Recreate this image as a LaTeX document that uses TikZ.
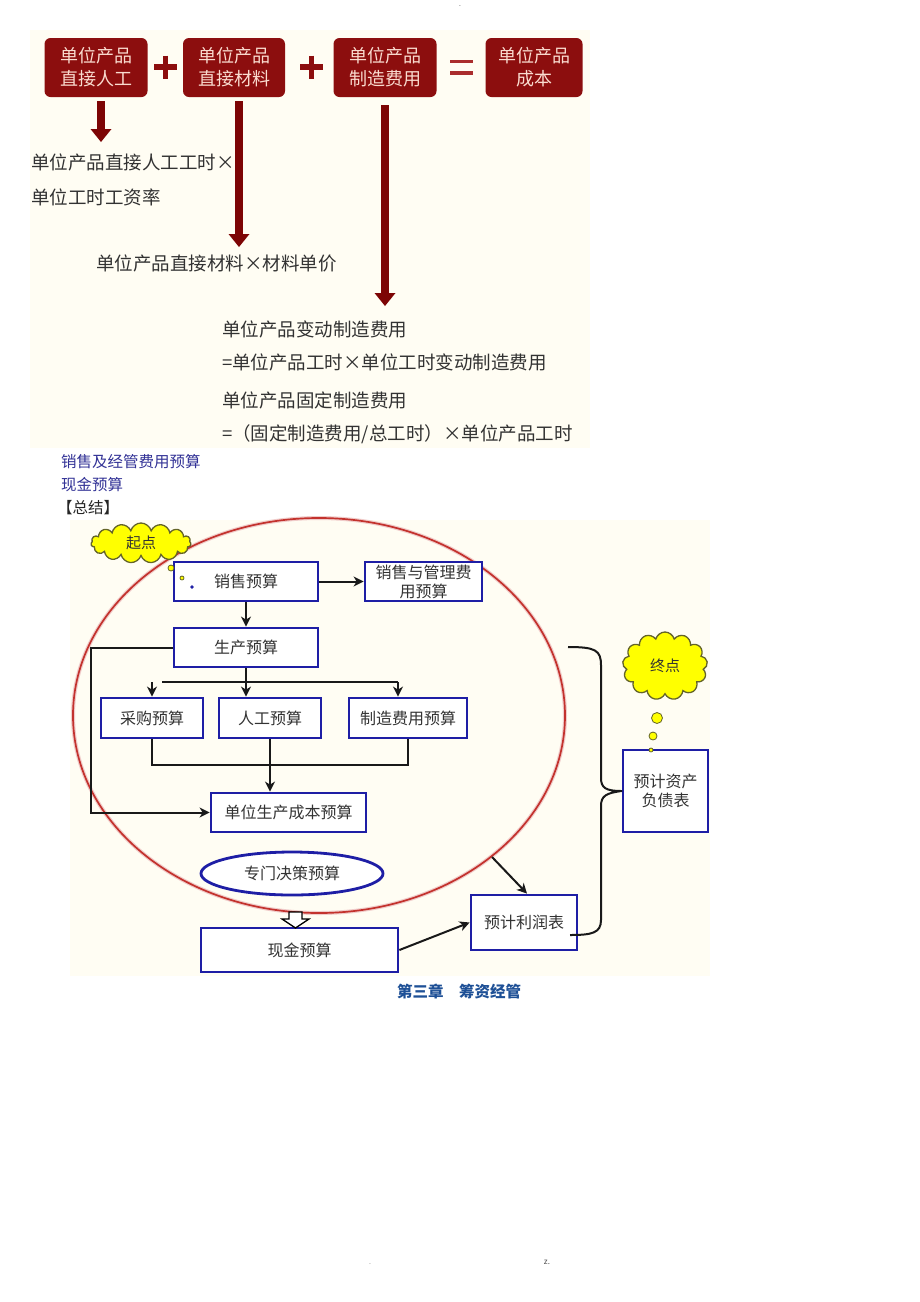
\documentclass[tikz,border=0pt]{standalone}
\usepackage{fontspec}
\setmainfont{Noto Sans CJK SC}
\usetikzlibrary{arrows.meta,shapes.geometric,shapes.symbols}
\definecolor{cream}{RGB}{255,253,243}
\definecolor{boxred}{RGB}{140,14,14}
\definecolor{boxtxt}{RGB}{250,220,208}
\definecolor{arrred}{RGB}{125,5,5}
\definecolor{eqred}{RGB}{170,45,45}
\definecolor{txtgray}{RGB}{50,50,50}
\definecolor{navy}{RGB}{30,30,165}
\definecolor{ellred}{RGB}{195,50,45}
\definecolor{cloudy}{RGB}{255,255,0}
\definecolor{cloudline}{RGB}{100,100,40}
\definecolor{noteblue}{RGB}{50,50,150}
\definecolor{footblue}{RGB}{30,80,150}
\tikzset{
  redbox/.style={fill=boxred, rounded corners=6pt, minimum height=59pt, text=boxtxt,
    font=\fontsize{18}{23}\selectfont, align=center, inner sep=0pt},
  bigarrow/.style={draw=arrred, line width=8pt, -{Triangle[width=21pt,length=13pt,line width=0pt]}},
  toptext/.style={anchor=west, inner sep=0pt, text=txtgray, font=\fontsize{18.5}{22}\selectfont},
  note/.style={anchor=west, inner sep=0pt, text=noteblue, font=\fontsize{15.5}{18}\selectfont},
  bluebox/.style={draw=navy, line width=2.8pt, fill=white, inner sep=0pt, align=center,
    text=black!80, font=\fontsize{16}{19}\selectfont},
  conn/.style={draw=black!90, line width=2pt},
  arr/.style={conn, -{Stealth[length=10pt,width=10pt,inset=3pt]}},
  cloudnode/.style={cloud, cloud puffs=15, draw=cloudline, fill=cloudy, line width=1.3pt,
    inner sep=0pt, font=\fontsize{15}{17}\selectfont, text=black!80},
  bubble/.style={circle, draw=cloudline, fill=cloudy, line width=0.8pt, inner sep=0pt},
}
\begin{document}
\begin{tikzpicture}[x=1pt,y=-1pt]
\useasboundingbox (0,0) rectangle (920,1302);
\fill[white] (0,0) rectangle (920,1302);
\fill[cream] (30,30) rectangle (590,448);
\fill[cream] (70,520) rectangle (710,976);

% ---------- top figure ----------
\node[redbox, minimum width=103pt] (b1) at (96,67.5) {单位产品\\直接人工};
\node[redbox, minimum width=102pt] (b2) at (234,67.5) {单位产品\\直接材料};
\node[redbox, minimum width=103pt] (b3) at (385,67.5) {单位产品\\制造费用};
\node[redbox, minimum width=97pt] (b4) at (534,67.5) {单位产品\\成本};
\draw[line width=5.5pt, boxred] (154,67)--(177,67) (165.5,55.5)--(165.5,78.5);
\draw[line width=5.5pt, boxred] (300,67)--(323,67) (311.5,55.5)--(311.5,78.5);
\draw[line width=3.5pt, eqred] (450,61.5)--(473,61.5) (450,73)--(473,73);

\coordinate (a1s) at (101,101); \coordinate (a1e) at (101,142);
\coordinate (a2s) at (239,101); \coordinate (a2e) at (239,247);
\coordinate (a3s) at (385,105); \coordinate (a3e) at (385,306);
\draw[bigarrow] (a1s) -- (a1e);
\draw[bigarrow] (a2s) -- (a2e);
\draw[bigarrow] (a3s) -- (a3e);

\node[toptext] (t1) at (31,162) {单位产品直接人工工时×};
\node[toptext] (t2) at (31,197) {单位工时工资率};
\node[toptext] (t3) at (96,263) {单位产品直接材料×材料单价};
\node[toptext] (t4) at (222,329) {单位产品变动制造费用};
\node[toptext] (t5) at (222,362) {=单位产品工时×单位工时变动制造费用};
\node[toptext] (t6) at (222,400) {单位产品固定制造费用};
\node[toptext] (t7) at (222,434) {=（固定制造费用/总工时）×单位产品工时};

% ---------- notes ----------
\node[note] (n1) at (61,462) {销售及经管费用预算};
\node[note] (n2) at (61,485) {现金预算};
\node[note, text=black!85] (n3) at (57,508) {【总结】};

% ---------- diagram ----------
\draw[ellred!25, line width=4pt] (319,715.5) ellipse [x radius=246, y radius=197.5];
\draw[ellred, line width=1.7pt] (319,715.5) ellipse [x radius=246, y radius=197.5];

\node[cloudnode, aspect=2.6, minimum width=100pt, minimum height=40pt] (start) at (141,543) {起点};
\node[cloudnode, cloud puffs=13, aspect=1.25, minimum width=85pt, minimum height=68pt] (end) at (665,666) {终点};

\node[bluebox, minimum width=144pt, minimum height=39pt] (sale) at (246,581.5) {销售预算};
\node[bluebox, minimum width=117pt, minimum height=39pt] (sgm) at (423.5,581.5) {销售与管理费\\用预算};
\node[bluebox, minimum width=144pt, minimum height=39pt] (prod) at (246,647.5) {生产预算};
\node[bluebox, minimum width=102pt, minimum height=40pt] (purch) at (152,718) {采购预算};
\node[bluebox, minimum width=102pt, minimum height=40pt] (labor) at (270,718) {人工预算};
\node[bluebox, minimum width=118pt, minimum height=40pt] (mfg) at (408,718) {制造费用预算};
\node[bluebox, minimum width=155pt, minimum height=39pt] (unit) at (288.5,812.5) {单位生产成本预算};
\node[bluebox, ellipse, minimum width=182pt, minimum height=43pt] (special) at (292,873.5) {专门决策预算};
\node[bluebox, minimum width=197pt, minimum height=44pt] (cash) at (299.5,950) {现金预算};
\node[bluebox, minimum width=106pt, minimum height=55pt] (profit) at (524,922.5) {预计利润表};
\node[bluebox, minimum width=85pt, minimum height=82pt] (bs) at (665.5,791) {预计资产\\负债表};

% thought bubbles
\node[bubble, minimum size=6pt] (sb1) at (171,568) {};
\node[bubble, minimum size=4pt] (sb2) at (182,578) {};
\node[bubble, minimum size=2.5pt, fill=navy, draw=navy] (sb3) at (192,587) {};
\node[bubble, minimum size=11pt] (eb1) at (657,718) {};
\node[bubble, minimum size=8pt] (eb2) at (653,736) {};
\node[bubble, minimum size=4pt] (eb3) at (651,750) {};

% connectors
\draw[arr] (sale.east) -- (sgm.west);
\draw[arr] (sale.south) -- (prod.north);
\coordinate (lx) at (91,647.5);
\draw[arr] (prod.west) -- (lx) |- (unit.west);
\draw[arr] (prod.south) -- (prod.south |- labor.north);
\coordinate (hb0) at (152,682);
\coordinate (hb1) at (162,682);
\coordinate (hb2) at (398,682);
\draw[conn] (hb1) -- (hb2);
\draw[arr] (hb2) -- (hb2 |- mfg.north);
\draw[arr] (hb0) -- (purch.north);
\draw[conn] (purch.south) -- ++(0,26) -| (mfg.south);
\draw[arr] (labor.south) -- (labor.south |- unit.north);
\coordinate (eo) at (492,857);
\draw[arr] (eo) -- ([xshift=3pt]profit.north);
\draw[arr] (cash.east) -- (profit.west);

% hollow arrow
\draw[black, line width=1.3pt, fill=white]
  (289,912) -- (302,912) -- (302,919) -- (309,919) -- (295.5,928) -- (282,919) -- (289,919) -- cycle;

% brace
\coordinate (br1) at (568,647);
\coordinate (br2) at (570,935);
\draw[conn, line join=round]
  (br1) .. controls (595,647) and (601,650) .. (601,665)
  -- (601,778) .. controls (601,788) and (606,791) .. (bs.west)
  .. controls (606,793) and (601,796) .. (601,806)
  -- (601,920) .. controls (601,933) and (592,935) .. (br2);

% footer
\node[inner sep=0pt, text=footblue, font=\fontsize{15.5}{18}\selectfont\bfseries] (foot) at (459,992) {第三章\hspace{1em}筹资经管};

\node[inner sep=0pt, text=black!60, font=\fontsize{6}{7}\selectfont] (m1) at (460,7) {-};
\node[inner sep=0pt, text=black!60, font=\fontsize{7}{8}\selectfont] (m2) at (370,1264) {.};
\node[inner sep=0pt, text=black!70, font=\fontsize{8}{9}\selectfont] (m3) at (547,1262) {z.};
\end{tikzpicture}
\end{document}
